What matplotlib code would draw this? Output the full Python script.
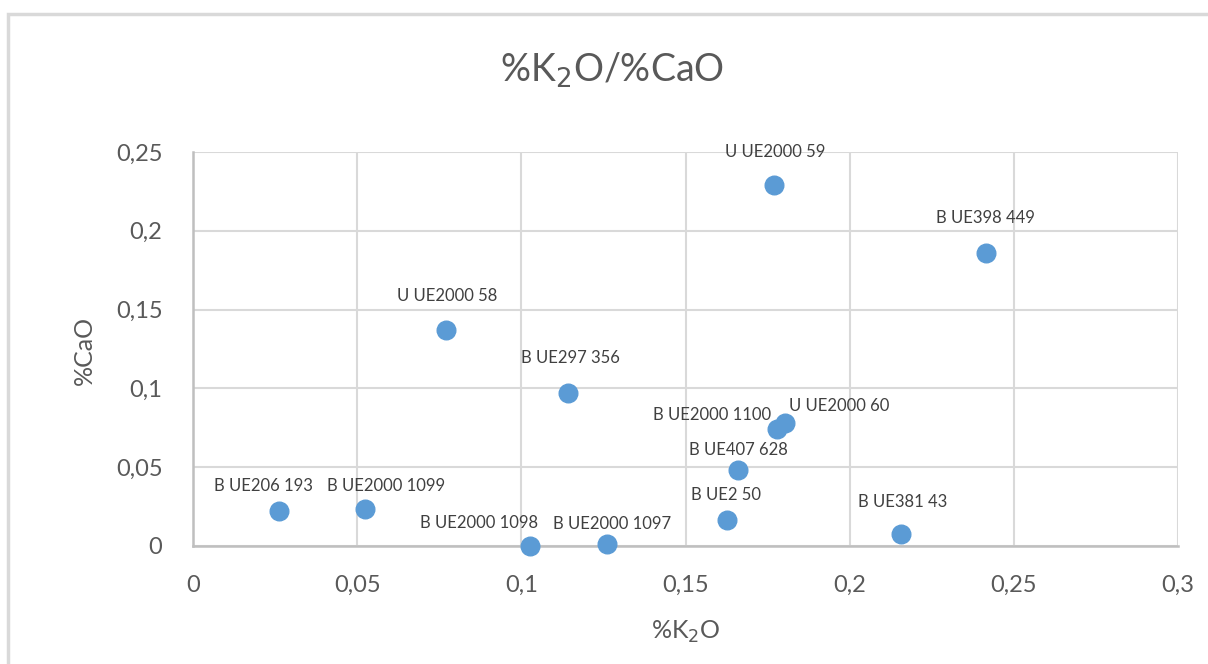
import matplotlib.pyplot as plt
from matplotlib.ticker import FuncFormatter
from matplotlib.patches import Rectangle

plt.rcParams['font.family'] = ['Lato', 'DejaVu Sans']

# %K2O and %CaO per sample
labels = ['B UE206 193', 'B UE2000 1099', 'B UE2000 1098', 'B UE2000 1097',
          'U UE2000 58', 'B UE297 356', 'U UE2000 59', 'B UE398 449',
          'B UE2000 1100', 'U UE2000 60', 'B UE407 628', 'B UE2 50', 'B UE381 43']
k2o = [0.0262, 0.0524, 0.1027, 0.1261, 0.0771, 0.1142, 0.1770, 0.2415,
       0.1779, 0.1803, 0.1660, 0.1627, 0.2157]
cao = [0.0222, 0.0235, 0.0, 0.001, 0.137, 0.0971, 0.229, 0.186,
       0.0742, 0.0780, 0.0482, 0.0165, 0.0076]

# label offsets in pixels (dx, dy) so overlapping names stay readable
offsets = [(-16, 25), (21, 23), (-51, 23), (5, 20), (1, 34), (2, 35), (1, 33),
           (0, 35), (-65, 14), (54, 17), (0, 20), (-1, 25), (1, 32)]

fig = plt.figure(figsize=(12.08, 6.64), dpi=100)
# chart frame
fig.patches.append(Rectangle((8 / 1208, -0.1), 1.2, 1.1 - 14 / 664,
                             transform=fig.transFigure, fill=False,
                             edgecolor='#d9d9d9', linewidth=2.5))

ax = fig.add_axes([193 / 1208, 1 - 546 / 664, 985 / 1208, 394 / 664])
ax.scatter(k2o, cao, s=180, color='#5b9bd5', zorder=3, clip_on=False)

for name, x, y, (dx, dy) in zip(labels, k2o, cao, offsets):
    ax.annotate(name, (x, y), xytext=(dx, dy), textcoords='offset pixels',
                ha='center', va='center', fontsize=12, color='#404040', zorder=4)

ax.set_xlim(0, 0.3)
ax.set_ylim(0, 0.25)
ax.set_xticks([0, 0.05, 0.1, 0.15, 0.2, 0.25, 0.3])
ax.set_yticks([0, 0.05, 0.1, 0.15, 0.2, 0.25])
comma = FuncFormatter(lambda v, p: ('%g' % round(v, 3)).replace('.', ','))
ax.xaxis.set_major_formatter(comma)
ax.yaxis.set_major_formatter(comma)
ax.tick_params(length=0, labelsize=17, labelcolor='#595959')
ax.tick_params(axis='x', pad=21)
ax.tick_params(axis='y', pad=22)

ax.grid(True, color='#d9d9d9', linewidth=1.5)
ax.set_axisbelow(True)
for side in ['top', 'right']:
    ax.spines[side].set_visible(False)
for side in ['left', 'bottom']:
    ax.spines[side].set_color('#bfbfbf')
    ax.spines[side].set_linewidth(1.8)

fig.text(612 / 1208, 1 - 70 / 664, '%K$_2$O/%CaO', fontsize=27,
         color='#595959', ha='center', va='center')
ax.set_xlabel('%K$_2$O', fontsize=18, color='#595959', va='center')
ax.set_ylabel('%CaO', fontsize=18, color='#595959', va='center')
ax.xaxis.set_label_coords(0.5, -0.218)
ax.yaxis.set_label_coords(-0.11, 0.497)

fig.savefig('out.png', dpi=100)
